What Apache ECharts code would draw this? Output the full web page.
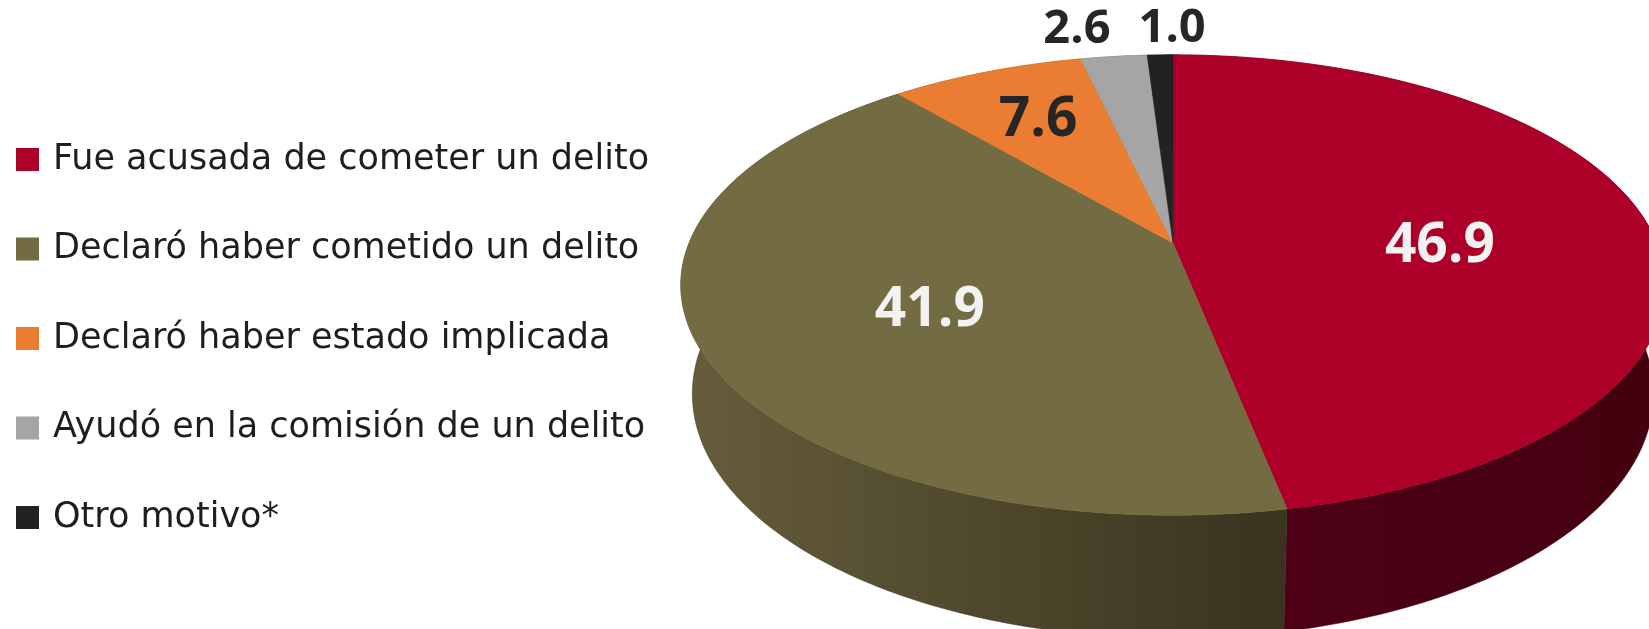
<!DOCTYPE html>
<html>
<head>
<meta charset="utf-8">
<script src="https://cdn.jsdelivr.net/npm/echarts@6/dist/echarts.min.js"></script>
<style>
  html, body { margin: 0; padding: 0; background: #ffffff; }
  #main { width: 1649px; height: 629px; }
</style>
</head>
<body>
<div id="main"></div>
<script>
// datos
var categories = [
  'Fue acusada de cometer un delito',
  'Declaró haber cometido un delito',
  'Declaró haber estado implicada',
  'Ayudó en la comisión de un delito',
  'Otro motivo*'
];
var values = [46.9, 41.9, 7.6, 2.6, 1.0];
var valueLabels = ['46.9', '41.9', '7.6', '2.6', '1.0'];

// colores (cara superior / lateral)
var topColors = ['#AD0029', '#736B42', '#EA7D32', '#A5A5A5', '#222222'];
var sideColors = [
  ['#500019', '#44000F'],
  ['#665D3B', '#39331F'],
  ['#8A4A1E', '#6E3A16'],
  ['#6A6A6A', '#555555'],
  ['#151515', '#101010']
];
var labelColors = ['#F2F2F2', '#F2F2F2', '#262626', '#262626', '#262626'];

// posicion de etiquetas: radio relativo + ajuste
var labelCfg = [
  { r: 0.56, dx: 0, dy: 15, size: 55 },
  { r: 0.53, dx: -2, dy: 14, size: 55 },
  { r: 0.68, dx: -2, dy: -1, size: 55 },
  { r: 1.0, dx: -37, dy: -3, size: 47, outside: true },
  { r: 1.0, dx: 12, dy: -3, size: 47, outside: true }
];

var total = values.reduce(function (a, b) { return a + b; }, 0);
var startAngles = [];
var acc = 0;
values.forEach(function (v) {
  startAngles.push(acc / total * Math.PI * 2);
  acc += v;
});

// perspectiva del pastel 3D
var phi = 26.9 * Math.PI / 180;
var sinP = Math.sin(phi), cosP = Math.cos(phi);
var dist = 4.88;
var depthH = 0.25;

function project(W, H, theta, r, y) {
  var cx = W * 0.7113, cy = H * 0.3863;
  var fx = W * 1.4318, fy = H * 3.8156;
  var x3 = r * Math.sin(theta);
  var z3 = -r * Math.cos(theta);
  var up = y * cosP - z3 * sinP;
  var d = dist - y * sinP - z3 * cosP;
  return [cx + fx * x3 / d, cy - fy * up / d];
}

function arc(W, H, a0, a1, y) {
  var n = Math.max(2, Math.ceil((a1 - a0) / (Math.PI / 240)));
  var pts = [];
  for (var k = 0; k <= n; k++) {
    pts.push(project(W, H, a0 + (a1 - a0) * k / n, 1, y));
  }
  return pts;
}

function makeRender(i) {
  return function (params, api) {
    var W = api.getWidth(), H = api.getHeight();
    var a0 = startAngles[i];
    var a1 = a0 + api.value(0) / total * Math.PI * 2;

    var topArc = arc(W, H, a0, a1, 0);
    var botArc = arc(W, H, a0, a1, -depthH).reverse();
    var apex = project(W, H, 0, 0, 0);

    var sidePts = topArc.concat(botArc);
    var topPts = [apex].concat(topArc);

    var lc = labelCfg[i];
    var mid = (a0 + a1) / 2;
    var lp = project(W, H, mid, lc.r, 0);

    return {
      type: 'group',
      children: [
        {
          type: 'polygon',
          z2: 1,
          shape: { points: sidePts },
          style: {
            fill: {
              type: 'linear', x: 0, y: 0, x2: 1, y2: 0,
              colorStops: [
                { offset: 0, color: sideColors[i][0] },
                { offset: 1, color: sideColors[i][1] }
              ]
            },
            stroke: sideColors[i][1],
            lineWidth: 0.5
          }
        },
        {
          type: 'polygon',
          z2: 10,
          shape: { points: topPts },
          style: { fill: topColors[i], stroke: topColors[i], lineWidth: 0.6 }
        },
        {
          type: 'text',
          z2: 20,
          style: {
            text: valueLabels[i],
            x: lp[0] + lc.dx,
            y: lp[1] + lc.dy,
            fill: labelColors[i],
            fontFamily: 'Open Sans',
            fontWeight: 'bold',
            fontSize: lc.size,
            align: 'center',
            verticalAlign: lc.outside ? 'bottom' : 'middle'
          }
        }
      ]
    };
  };
}

var chart = echarts.init(document.getElementById('main'));

var series = categories.map(function (name, i) {
  return {
    type: 'custom',
    name: name,
    coordinateSystem: 'none',
    silent: true,
    itemStyle: { color: topColors[i] },
    data: [values[i]],
    renderItem: makeRender(i)
  };
});

var option = {
  backgroundColor: '#ffffff',
  animation: false,
  legend: {
    orient: 'vertical',
    left: 11,
    top: 137,
    icon: 'rect',
    itemWidth: 23,
    itemHeight: 23,
    itemGap: 54.5,
    selectedMode: false,
    textStyle: {
      fontFamily: 'DejaVu Sans',
      fontSize: 35,
      lineHeight: 35,
      color: '#1E1E1E',
      padding: [0, 0, 0, 9]
    },
    data: categories
  },
  series: series
};

chart.setOption(option);
</script>
</body>
</html>
